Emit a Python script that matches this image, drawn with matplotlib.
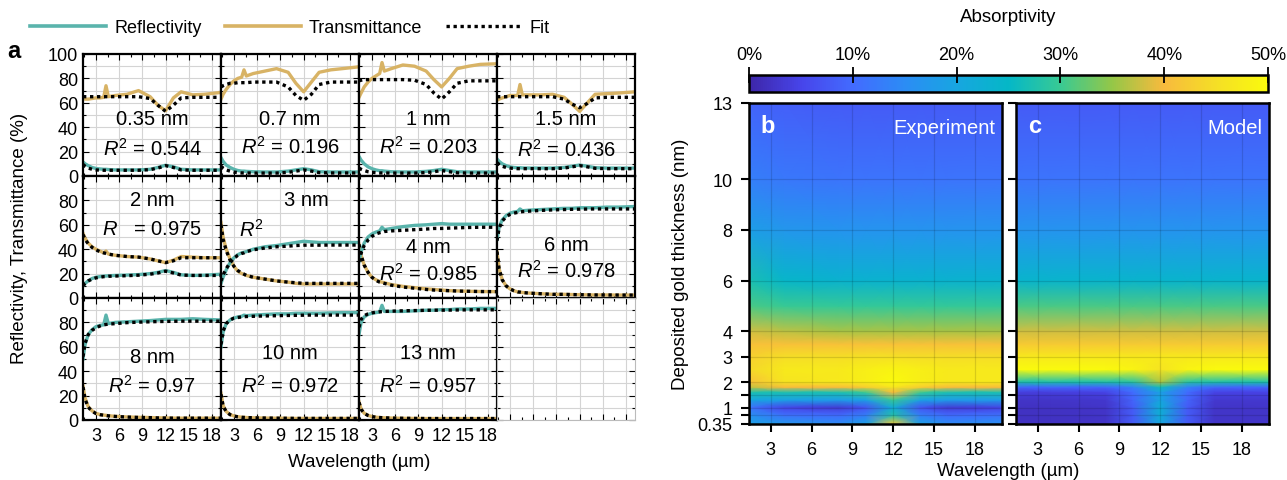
import matplotlib
matplotlib.use('Agg')
import matplotlib.pyplot as plt
from matplotlib.colors import LinearSegmentedColormap
from matplotlib.lines import Line2D
from matplotlib.ticker import MultipleLocator, FixedLocator
import numpy as np

plt.rcParams['font.family'] = ['Liberation Sans', 'DejaVu Sans']
plt.rcParams['mathtext.fontset'] = 'custom'
plt.rcParams['mathtext.rm'] = 'Liberation Sans'
plt.rcParams['mathtext.it'] = 'Liberation Sans:italic'

TEAL = '#5ab4ac'
GOLD = '#d8b365'

# ---- panel a: spectra (wavelength in um, values in %) ----
wl = [1.33, 1.6, 2.0, 2.5, 3.0, 3.5, 4.0, 4.3, 4.6, 5.5, 7.0, 8.5, 10.0, 11.0, 12.0, 13.0, 14.0, 15.5, 17.0, 19.15]

R_035 = [11.5, 10, 8.5, 7, 6.2, 5.8, 5.5, 5.5, 5.3, 5.0, 5.0, 5.0, 5.5, 7, 8.8, 7.5, 5.5, 5.0, 5.0, 5.0]
T_035 = [64, 63, 63, 63.5, 64, 64, 64.5, 74, 65, 66, 67, 70, 65, 58, 53.5, 64, 69, 66.5, 67, 68.5]
RF_035 = [9.5, 8, 6.5, 5.5, 5, 4.8, 4.7, 4.7, 4.7, 4.7, 4.7, 4.7, 5.2, 6.5, 8.5, 7.0, 5.0, 4.7, 4.7, 4.7]
TF_035 = [65, 65, 65, 65, 65, 65, 65, 65, 65, 65, 65, 65, 63.5, 58, 53, 58, 64, 64.5, 64.5, 64.5]

R_07 = [15, 12, 9, 7, 5.5, 4.5, 4, 4, 3.8, 3.5, 3.3, 3.3, 4, 5, 6, 5, 3.5, 3.3, 3.3, 3.3]
T_07 = [63, 67, 71, 75, 78, 80, 81, 87, 82, 84, 86, 88, 85, 76, 69, 77, 85, 87, 88, 89.5]
RF_07 = [8, 6.5, 5, 4, 3.2, 2.8, 2.5, 2.5, 2.5, 2.4, 2.4, 2.4, 3, 4, 5, 4, 2.8, 2.5, 2.5, 2.5]
TF_07 = [73, 74, 75, 76, 76, 76.5, 76.5, 76.5, 76.5, 77, 77, 77, 73, 66, 62, 67, 75, 77, 77, 77]

R_1 = [16, 13, 10, 7.5, 6, 5, 4.3, 4.3, 4, 3.5, 3.3, 3.3, 3.8, 4.5, 5.5, 4.5, 3.5, 3.3, 3.3, 3.3]
T_1 = [64.5, 68, 73, 77, 80, 82, 84, 93, 86, 88, 91, 90, 86, 79, 73, 80, 88, 90, 91.5, 92]
RF_1 = [6.5, 5.5, 4.5, 3.5, 3, 2.7, 2.5, 2.5, 2.5, 2.4, 2.4, 2.4, 2.8, 3.5, 4.5, 3.5, 2.6, 2.4, 2.4, 2.4]
TF_1 = [78, 78.5, 79, 79, 79, 79, 79, 79, 79, 79, 79, 78.5, 75, 68, 63, 69, 76, 78, 78, 78]

R_15 = [14, 12, 10, 8.5, 7.5, 7, 6.8, 6.8, 6.6, 6.5, 6.5, 6.5, 7, 8, 9, 8, 6.8, 6.5, 6.5, 6.5]
T_15 = [62, 63, 64, 65, 66, 66, 66, 75, 66.5, 66.5, 66.5, 67, 64.5, 59, 53, 60, 67, 67.5, 68, 69]
RF_15 = [11, 9.5, 8, 7, 6.5, 6.2, 6, 6, 6, 6, 6, 6, 6.5, 7.5, 8.5, 7.5, 6.3, 6, 6, 6]
TF_15 = [65, 65, 65, 65, 65, 65, 65, 65, 65, 65, 65, 65, 63, 59, 56, 59.5, 64, 64.5, 64.5, 64.5]

R_2 = [10, 12, 14, 16, 17, 17.5, 18, 18, 18.2, 18.5, 18.8, 19.2, 20, 21, 22.5, 21, 19, 18.5, 18.7, 19.5]
T_2 = [53, 49, 45, 42, 40, 38.5, 37, 38.5, 36, 35, 34, 33.5, 32, 30.5, 29, 31, 34, 33.5, 33, 33]
RF_2 = [10, 12, 14, 15.5, 16.5, 17, 17.5, 17.5, 17.8, 18, 18.3, 18.7, 19.5, 20.5, 22, 20.5, 18.8, 18.5, 18.5, 18.5]
TF_2 = [52, 48, 44.5, 41.5, 39.5, 38, 37, 36.5, 36, 35, 34, 33.5, 32, 30.5, 29, 30.5, 33, 33, 33, 33]

R_3 = [12, 17, 23, 29, 33, 35.5, 37, 37.5, 38, 40, 42, 43, 44.5, 45.5, 46.5, 46, 45.5, 45.5, 45.5, 45.5]
T_3 = [62, 50, 40, 32, 26, 22, 20, 19.5, 18.5, 17, 15.5, 14, 13, 12, 11.5, 11.5, 11.5, 11.5, 11.5, 11.5]
RF_3 = [14, 19, 24, 29, 32.5, 35, 36.5, 37, 38, 39.5, 41, 42, 42.5, 43, 43.3, 43.3, 43.3, 43.4, 43.4, 43.4]
TF_3 = [60, 48, 39, 31, 26, 22.5, 20.5, 19.5, 18.5, 17, 15.5, 14, 13, 12.5, 12, 12, 12, 12, 12, 12]

R_4 = [30, 38, 45, 50, 52.5, 54, 55, 58, 56, 57, 58.5, 59.5, 60, 60.5, 61, 60.5, 60.5, 60.5, 60.5, 60.5]
T_4 = [44, 35, 27, 21, 17, 15, 13.5, 13, 12.5, 11, 9.5, 8.5, 7.5, 7, 6.5, 6, 5.8, 5.5, 5.3, 5.2]
RF_4 = [30, 37, 43, 47.5, 50.5, 52.5, 53.5, 54, 54.5, 55, 55.5, 56, 56.5, 57, 57, 57.3, 57.5, 57.8, 58, 58]
TF_4 = [44, 35, 27, 21, 17, 14.5, 13, 12.5, 12, 10.5, 9, 8, 7, 6.5, 6.2, 6, 5.7, 5.5, 5.3, 5.2]

R_6 = [48, 58, 64, 67.5, 69.5, 70.5, 71, 73, 71.5, 72, 72.5, 73, 73.5, 73.5, 74, 74, 74, 74.5, 74.5, 75]
T_6 = [38, 24, 15, 10, 7.5, 6, 5, 4.8, 4.5, 4, 3.5, 3, 3, 2.8, 2.7, 2.6, 2.5, 2.5, 2.4, 2.4]
RF_6 = [47, 57, 63, 66.5, 68.5, 69.5, 70.2, 70.5, 70.8, 71.2, 71.8, 72.2, 72.5, 72.7, 72.8, 72.9, 73, 73, 73, 73]
TF_6 = [38, 24, 15, 10, 7.5, 6, 5, 4.8, 4.5, 4, 3.5, 3, 3, 2.8, 2.7, 2.6, 2.5, 2.5, 2.4, 2.4]

R_8 = [50, 62, 70, 74, 76.5, 77.5, 78, 86, 79, 80, 80.5, 81, 81.5, 82, 82.5, 82.5, 82.5, 83, 82.5, 82]
T_8 = [28, 18, 11, 7.5, 5.5, 4.5, 4, 3.8, 3.5, 3, 2.5, 2.2, 2, 1.8, 1.7, 1.6, 1.5, 1.5, 1.5, 1.5]
RF_8 = [52, 63, 70, 73.5, 75.5, 77, 78, 78.3, 78.6, 79, 79.8, 80.2, 80.5, 80.7, 80.8, 80.9, 81, 81, 81, 81]
TF_8 = [27, 17, 10.5, 7.2, 5.3, 4.4, 3.9, 3.7, 3.4, 2.9, 2.4, 2.1, 1.9, 1.7, 1.6, 1.5, 1.5, 1.5, 1.5, 1.5]

R_10 = [60, 72, 79, 82, 83.5, 84.5, 85, 86, 85.5, 86, 86.5, 87, 87, 87.5, 87.5, 87.5, 87.5, 87.8, 88, 88]
T_10 = [22, 12, 7, 4.5, 3.3, 2.7, 2.3, 2.2, 2, 1.8, 1.6, 1.5, 1.4, 1.3, 1.3, 1.3, 1.3, 1.3, 1.3, 1.3]
RF_10 = [62, 73, 79, 82, 83.5, 84, 84.5, 84.7, 84.8, 85, 85.3, 85.5, 85.7, 85.8, 85.9, 86, 86, 86, 86, 86]
TF_10 = [21, 11.5, 6.8, 4.4, 3.2, 2.6, 2.2, 2.1, 2, 1.8, 1.6, 1.5, 1.4, 1.3, 1.3, 1.3, 1.3, 1.3, 1.3, 1.3]

R_13 = [70, 80, 84.5, 86.5, 87.5, 88, 88.5, 94, 89, 89, 89, 89.5, 90, 90, 90.5, 90.5, 91, 91, 91.5, 91.5]
T_13 = [15, 9, 5.5, 3.8, 2.8, 2.3, 2, 1.9, 1.8, 1.6, 1.4, 1.3, 1.2, 1.2, 1.2, 1.2, 1.2, 1.2, 1.2, 1.2]
RF_13 = [76, 82.5, 85.5, 87, 87.8, 88.3, 88.7, 88.8, 89, 89.2, 89.5, 89.7, 89.9, 90, 90, 90.1, 90.2, 90.3, 90.3, 90.3]
TF_13 = [14.5, 8.8, 5.4, 3.7, 2.8, 2.3, 2, 1.9, 1.8, 1.6, 1.4, 1.3, 1.2, 1.2, 1.2, 1.2, 1.2, 1.2, 1.2, 1.2]

names = ['0.35 nm', '0.7 nm', '1 nm', '1.5 nm', '2 nm', '3 nm', '4 nm', '6 nm', '8 nm', '10 nm', '13 nm']
r2_text = [r'$R^2$ = 0.544', r'$R^2$ = 0.196', r'$R^2$ = 0.203', r'$R^2$ = 0.436',
           r'$R$   = 0.975', r'$R^2$', r'$R^2$ = 0.985', r'$R^2$ = 0.978',
           r'$R^2$ = 0.97', r'$R^2$ = 0.972', r'$R^2$ = 0.957']
refl = [R_035, R_07, R_1, R_15, R_2, R_3, R_4, R_6, R_8, R_10, R_13]
trans = [T_035, T_07, T_1, T_15, T_2, T_3, T_4, T_6, T_8, T_10, T_13]
refl_fit = [RF_035, RF_07, RF_1, RF_15, RF_2, RF_3, RF_4, RF_6, RF_8, RF_10, RF_13]
trans_fit = [TF_035, TF_07, TF_1, TF_15, TF_2, TF_3, TF_4, TF_6, TF_8, TF_10, TF_13]

# ---- panels b, c: absorptivity maps (%) ----
wl_map = [1.4, 4, 8, 10, 12, 14, 16, 20]
th_map = [0.35, 0.7, 1.0, 1.3, 1.6, 1.8, 2.0, 2.5, 3.0, 3.5, 4.0, 5.0, 6.0, 8.0, 10.0, 13.0]
abs_exp = [
    [19, 17, 15, 19, 42, 19, 15, 16],
    [16, 11, 10, 13, 28, 13, 10, 11],
    [11, 5, 3.5, 7, 22, 7, 3.5, 4.5],
    [20, 19, 18, 19, 30, 19, 18, 18],
    [27, 27, 27, 30, 40, 30, 27, 27],
    [37, 40, 40, 42, 46, 42, 40, 40],
    [41, 46, 47, 48, 50, 48, 47, 47],
    [44, 47, 47, 48, 49, 48, 47, 47],
    [43, 45, 45, 45.5, 45.5, 45, 45, 45],
    [41, 41, 41, 41, 41, 41, 41, 41],
    [38, 37, 36, 36, 36, 36, 36, 36],
    [31, 30, 29.5, 29.5, 29.5, 29.5, 29.5, 29.5],
    [27, 24.5, 23.5, 23.5, 23.5, 23.5, 23.5, 23.5],
    [18.5, 17, 16.5, 16.5, 16.5, 16.5, 16.5, 16.5],
    [13, 12, 11.5, 11.5, 11.5, 11.5, 11.5, 11.5],
    [9, 8.5, 8, 8, 8, 8, 8, 8],
]
abs_mod = [
    [2, 2, 2.5, 8, 20, 8, 2.5, 2.5],
    [2, 2, 2.5, 8, 22, 8, 2.5, 2.5],
    [2, 2, 2.5, 8, 22, 8, 2.5, 2.5],
    [2.5, 2.5, 3, 9, 20, 9, 3, 3],
    [4, 4, 4.5, 10, 19, 10, 4.5, 4.5],
    [9, 9, 9, 13, 26, 13, 9, 9],
    [27, 27, 27, 28, 36, 28, 27, 27],
    [50, 50, 50, 49, 46, 49, 50, 50],
    [47, 47, 47, 47, 47, 47, 47, 47],
    [42, 42, 42, 42, 42, 42, 42, 42],
    [38, 38, 38, 38, 38, 38, 38, 38],
    [31, 31, 31, 31, 31, 31, 31, 31],
    [24, 24, 24, 24, 24, 24, 24, 24],
    [16.5, 16.5, 16.5, 16.5, 16.5, 16.5, 16.5, 16.5],
    [11.5, 11.5, 11.5, 11.5, 11.5, 11.5, 11.5, 11.5],
    [8, 8, 8, 8, 8, 8, 8, 8],
]
cbar_ticks = [0, 10, 20, 30, 40, 50]
th_ticks = [0.35, 0.7, 1, 1.5, 2, 3, 4, 6, 8, 10, 13]
th_ticklabels = ['0.35', '', '1', '', '2', '3', '4', '6', '8', '10', '13']

parula = LinearSegmentedColormap.from_list('parula_like', [
    (0.0, (0.24, 0.15, 0.66)), (0.1, (0.28, 0.27, 0.92)), (0.2, (0.26, 0.42, 1.0)),
    (0.3, (0.17, 0.55, 0.96)), (0.4, (0.09, 0.65, 0.88)), (0.5, (0.02, 0.72, 0.78)),
    (0.6, (0.22, 0.79, 0.58)), (0.7, (0.58, 0.78, 0.28)), (0.8, (0.97, 0.73, 0.24)),
    (0.9, (0.96, 0.87, 0.15)), (1.0, (0.98, 0.98, 0.05))])

W, H = 1287, 481
fig = plt.figure(figsize=(W / 100, H / 100), dpi=100)

def rect(x0, y0, x1, y1):
    return [x0 / W, 1 - y1 / H, (x1 - x0) / W, (y1 - y0) / H]

# label positions in data units (x, y) for name and R^2
name_pos = [(10.24, 47), (10.24, 47), (10.24, 47), (10.24, 47),
            (10.24, 81), (12.4, 81), (10.24, 42), (10.24, 44),
            (10.24, 52), (10.24, 55.5), (10.24, 55.5)]
r2_pos = [(10.24, 23), (10.24, 24.5), (10.24, 24.5), (10.24, 22),
          (10.24, 57), (5.3, 57), (10.24, 20.5), (10.24, 23),
          (10.24, 29), (10.24, 29), (10.24, 29)]

cw, ch = 138, 122
for k in range(12):
    r, c = divmod(k, 4)
    x0, y0 = 83 + c * cw, 55 + r * ch
    ax = fig.add_axes(rect(x0, y0, x0 + cw, y0 + ch))
    ax.set_xlim(1.33, 19.15)
    ax.set_ylim(0, 100)
    ax.xaxis.set_major_locator(FixedLocator([3, 6, 9, 12, 15, 18]))
    ax.xaxis.set_minor_locator(MultipleLocator(1.5))
    ax.yaxis.set_major_locator(FixedLocator([0, 20, 40, 60, 80, 100]))
    ax.yaxis.set_minor_locator(MultipleLocator(10))
    ax.grid(which='major', axis='x', color='#d4d4d4', lw=0.8)
    ax.grid(which='both', axis='y', color='#d4d4d4', lw=0.8)
    ax.set_axisbelow(True)
    ax.tick_params(which='both', direction='in', top=True, right=True, labelsize=13, width=0.8)
    ax.tick_params(which='major', length=4)
    ax.tick_params(which='minor', length=2.5)
    if c == 0:
        if r == 0:
            ax.set_yticklabels(['0', '20', '40', '60', '80', '100'])
        else:
            ax.set_yticklabels(['0', '20', '40', '60', '80', ''])
    else:
        ax.set_yticklabels([])
    if r == 2 and k < 11:
        ax.tick_params(axis='x', pad=5)
    else:
        ax.set_xticklabels([])
    if k == 11:
        for s in ax.spines.values():
            s.set_color('#bbbbbb')
            s.set_linewidth(0.8)
        continue
    for s in ax.spines.values():
        s.set_linewidth(1.6)
    ax.plot(wl, trans[k], color=GOLD, lw=2.4)
    ax.plot(wl, refl[k], color=TEAL, lw=2.4)
    ax.plot(wl, trans_fit[k], color='k', lw=2.4, ls=(0, (1, 1.1)))
    ax.plot(wl, refl_fit[k], color='k', lw=2.4, ls=(0, (1, 1.1)))
    ax.text(*name_pos[k], names[k], ha='center', va='center', fontsize=14.5)
    ax.text(*r2_pos[k], r2_text[k], ha='center', va='center', fontsize=14.5)

fig.text(14 / W, 1 - 52 / H, 'a', fontsize=17, fontweight='bold', ha='center', va='center')
fig.text(20 / W, 1 - 238 / H, 'Reflectivity, Transmittance (%)', rotation=90,
         fontsize=13.5, ha='center', va='center')
fig.text(359 / W, 1 - 463 / H, 'Wavelength (\u00b5m)', fontsize=13.5, ha='center', va='center')

handles = [Line2D([], [], color=TEAL, lw=2.6),
           Line2D([], [], color=GOLD, lw=2.6),
           Line2D([], [], color='k', lw=2.4, ls=(0, (1, 1.1)))]
fig.legend(handles, ['Reflectivity', 'Transmittance', 'Fit'], loc='center',
           bbox_to_anchor=(290 / W, 1 - 29 / H), ncol=3, frameon=False, fontsize=13,
           handlelength=4.2, handletextpad=0.45, columnspacing=1.3)

# ---- absorptivity maps ----
X, Y = np.meshgrid(wl_map, th_map)
map_axes = []
for i, (data, tag, lab) in enumerate([(abs_exp, 'b', 'Experiment'), (abs_mod, 'c', 'Model')]):
    x0 = 749 if i == 0 else 1016
    ax = fig.add_axes(rect(x0, 104, x0 + 253, 425))
    mesh = ax.pcolormesh(X, Y, np.array(data), shading='gouraud', cmap=parula, vmin=0, vmax=50)
    ax.set_xlim(1.4, 20)
    ax.set_ylim(0.35, 13)
    ax.set_xticks([3, 6, 9, 12, 15, 18])
    ax.set_yticks(th_ticks)
    ax.grid(True, color='k', alpha=0.13, lw=0.9)
    ax.set_axisbelow(False)
    ax.tick_params(direction='out', length=6, width=1.5, labelsize=13, pad=6)
    if i == 0:
        ax.set_yticklabels(th_ticklabels)
        ax.set_ylabel('Deposited gold thickness (nm)', fontsize=13.5, labelpad=6)
    else:
        ax.set_yticklabels([])
    for s in ax.spines.values():
        s.set_linewidth(1.8)
    ax.text(0.075, 0.93, tag, transform=ax.transAxes, color='white', fontsize=17,
            fontweight='bold', ha='center', va='center')
    ax.text(0.975, 0.925, lab, transform=ax.transAxes, color='white', fontsize=14.5,
            ha='right', va='center')
    map_axes.append(mesh)

cax = fig.add_axes(rect(749, 76, 1268, 93))
cb = fig.colorbar(map_axes[0], cax=cax, orientation='horizontal')
cb.set_ticks(cbar_ticks)
cb.set_ticklabels(['%d%%' % v for v in cbar_ticks])
cax.xaxis.set_ticks_position('top')
cax.tick_params(direction='inout', length=11, width=1.3, labelsize=13, pad=3)
cb.outline.set_linewidth(1.8)
fig.text(1008 / W, 1 - 18 / H, 'Absorptivity', fontsize=13.5, ha='center', va='center')
fig.text(1008 / W, 1 - 472 / H, 'Wavelength (\u00b5m)', fontsize=13.5, ha='center', va='center')

fig.savefig('out.png', dpi=100)
